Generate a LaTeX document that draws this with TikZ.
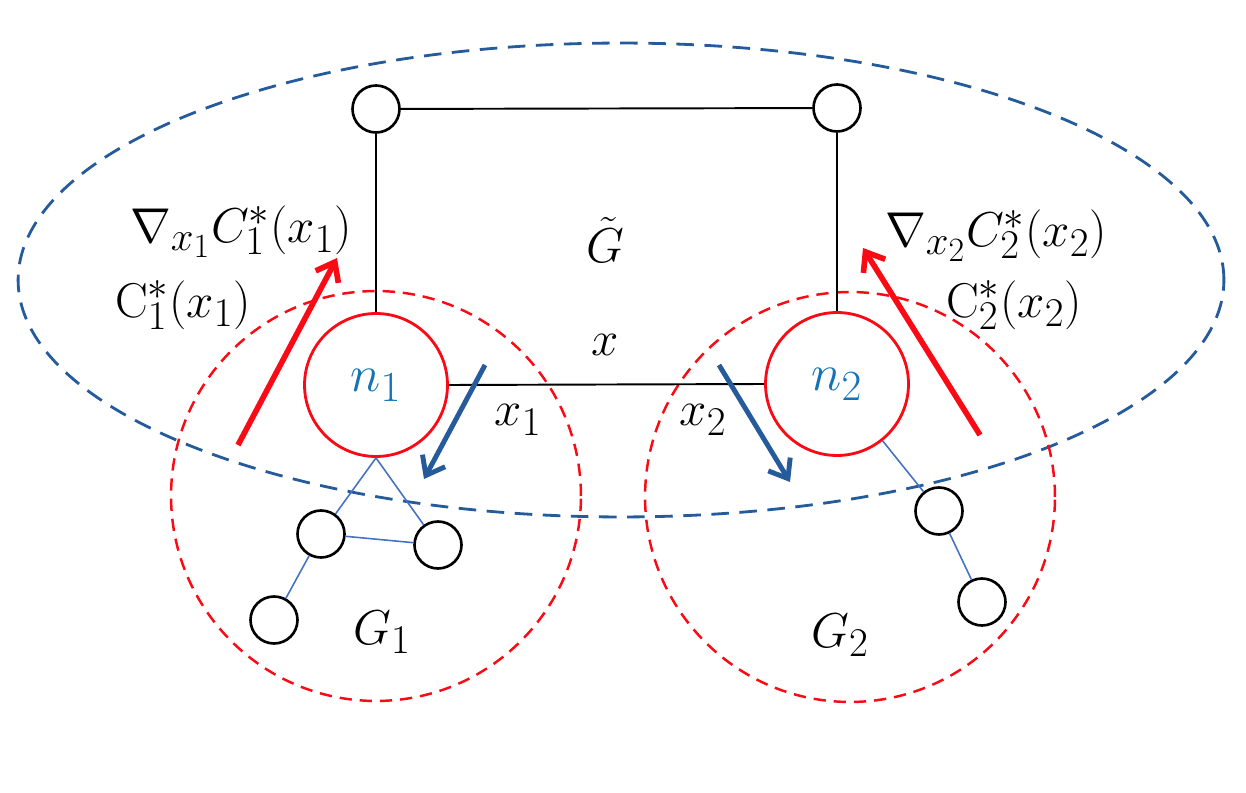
\documentclass[tikz,border=0pt]{standalone}
\usetikzlibrary{arrows.meta}
\definecolor{ellblue}{RGB}{37,90,155}
\definecolor{nblue}{RGB}{20,115,181}
\definecolor{edgeblue}{RGB}{68,114,196}
\definecolor{myred}{RGB}{250,10,20}

\begin{document}
\begin{tikzpicture}[x=0.02cm, y=-0.02cm, >={Straight Barb[angle=75:12pt]},
    lbl/.style={font=\Huge, scale=1.12},
    vtx/.style={circle, draw, line width=1.5pt, minimum size=0.94cm, inner sep=0pt},
    bignode/.style={circle, draw=myred, line width=1.6pt, minimum size=2.86cm, inner sep=0pt, text=nblue, font=\Huge}]
    \useasboundingbox (0,0) rectangle (1246,793);

    % 1. Vùng nét đứt: G~ (xanh), G1 và G2 (đỏ)
    \draw[ellblue, line width=1.6pt, dash pattern=on 10pt off 6pt] (621,280) ellipse [x radius=12.06cm, y radius=4.74cm];
    \draw[myred, line width=1.4pt, dash pattern=on 7pt off 4.5pt] (376,496) circle (4.1cm);
    \draw[myred, line width=1.4pt, dash pattern=on 7pt off 4.5pt] (850,497) circle (4.1cm);

    % 2. Các đỉnh của G~
    \node[vtx] (tl) at (376,109) {};
    \node[vtx] (tr) at (837,108) {};
    \node[bignode] (n1) at (376,385) {\scalebox{1.18}{$n_1$}};
    \node[bignode] (n2) at (837,384) {\scalebox{1.18}{$n_2$}};

    \draw[line width=1.1pt] (tl) -- (tr);
    \draw[line width=1.1pt] (tl) -- (n1);
    \draw[line width=1.1pt] (tr) -- (n2);
    \draw[line width=1.1pt] (n1.east) -- (n2.west);

    % 3. Các đỉnh của G1 và G2
    \node[vtx] (a1) at (321,534) {};
    \node[vtx] (b1) at (438,545) {};
    \node[vtx] (c1) at (274,620) {};
    \node[vtx] (d2) at (939,511) {};
    \node[vtx] (e2) at (982,602) {};

    \draw[edgeblue, line width=0.9pt] (n1.south) -- (a1);
    \draw[edgeblue, line width=0.9pt] (n1.south) -- (b1);
    \draw[edgeblue, line width=0.9pt] (a1) -- (b1);
    \draw[edgeblue, line width=0.9pt] (a1) -- (c1);
    \draw[edgeblue, line width=0.9pt] (n2) -- (d2);
    \draw[edgeblue, line width=0.9pt] (d2) -- (e2);

    % 4. Mũi tên
    \coordinate (r1s) at (238,445);
    \coordinate (r1e) at (337,258);
    \coordinate (r2s) at (980,435);
    \coordinate (r2e) at (863,248);
    \coordinate (b1s) at (485,365);
    \coordinate (b1e) at (424,479);
    \coordinate (b2s) at (719,365);
    \coordinate (b2e) at (790,482);
    \draw[->, myred, line width=3.2pt] (r1s) -- (r1e);
    \draw[->, myred, line width=3.2pt] (r2s) -- (r2e);
    \draw[->, ellblue, line width=2.8pt] (b1s) -- (b1e);
    \draw[->, ellblue, line width=2.8pt] (b2s) -- (b2e);

    % 5. Nhãn
    \node[lbl] (gt) at (605,240) {$\tilde{G}$};
    \node[lbl] (xx) at (605,345) {$x$};
    \node[lbl] (x1) at (518,420) {$x_1$};
    \node[lbl] (x2) at (703,420) {$x_2$};
    \node[lbl] (g1) at (382,632) {$G_1$};
    \node[lbl] (g2) at (840,635) {$G_2$};
    \node[lbl] (grad1) at (241,232) {$\nabla_{x_1}C_1^*(x_1)$};
    \node[lbl] (c1l) at (183,305) {$\mathrm{C}_1^*(x_1)$};
    \node[lbl] (grad2) at (996,236) {$\nabla_{x_2}C_2^*(x_2)$};
    \node[lbl] (c2l) at (1014,305) {$\mathrm{C}_2^*(x_2)$};

\end{tikzpicture}
\end{document}
